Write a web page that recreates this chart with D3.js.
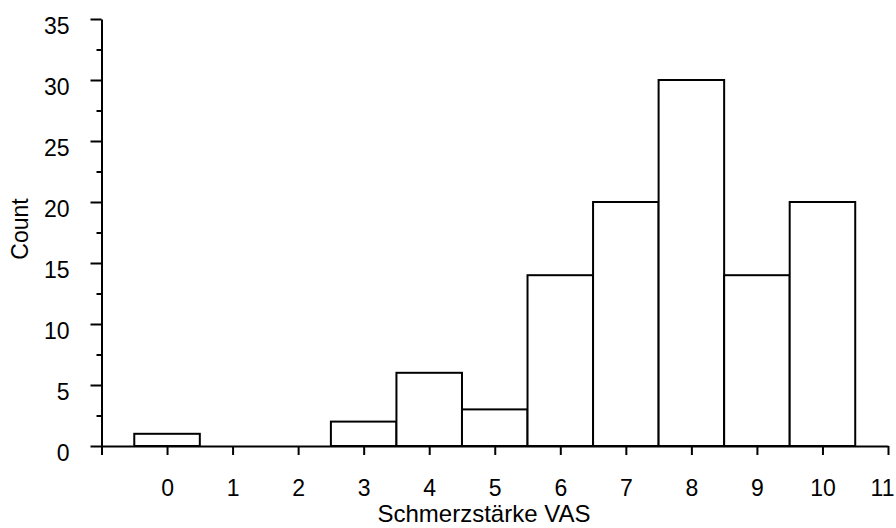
<!DOCTYPE html>
<html>
<head>
  <meta charset="utf-8">
  <title>Schmerzstärke VAS</title>
  <script src="https://cdn.jsdelivr.net/npm/d3@7/dist/d3.min.js"></script>
  <style>
    body { margin: 0; background: #fff; }
    text { font-family: "Liberation Sans", Arial, sans-serif; fill: #000; }
  </style>
</head>
<body>
  <svg id="chart" width="896" height="528"></svg>
  <script>
    // data
    var vasScores = [0, 1, 2, 3, 4, 5, 6, 7, 8, 9, 10];
    var counts    = [1, 0, 0, 2, 6, 3, 14, 20, 30, 14, 20];
    var xTicks    = [-1, 0, 1, 2, 3, 4, 5, 6, 7, 8, 9, 10, 11];
    var yTicks    = [0, 5, 10, 15, 20, 25, 30, 35];
    var yMinor    = [2.5, 7.5, 12.5, 17.5, 22.5, 27.5, 32.5];

    var chart = d3.select("#chart");

    var x = d3.scaleLinear().domain([-1, 11]).range([101.5, 888]);
    var y = d3.scaleLinear().domain([0, 35]).range([446, 19]);

    // bars
    chart.append("g").selectAll("rect")
      .data(vasScores)
      .join("rect")
        .attr("x", function(d) { return x(d - 0.5); })
        .attr("width", function(d) { return x(d + 0.5) - x(d - 0.5); })
        .attr("y", function(d, i) { return y(counts[i]); })
        .attr("height", function(d, i) { return y(0) - y(counts[i]); })
        .style("fill", "#fff")
        .style("stroke", "#000")
        .style("stroke-width", 2);

    // y minor ticks
    chart.append("g")
      .attr("transform", "translate(" + x(-1) + ",0)")
      .call(d3.axisLeft(y).tickValues(yMinor).tickSize(5).tickFormat(""))
      .call(function(g) { g.select(".domain").remove(); })
      .selectAll("line").style("stroke-width", 2);

    // y axis
    var yAxis = chart.append("g")
      .attr("transform", "translate(" + x(-1) + ",0)")
      .call(d3.axisLeft(y).tickValues(yTicks).tickSize(11).tickSizeOuter(0));
    yAxis.select(".domain").style("stroke-width", 2);
    yAxis.selectAll(".tick line").style("stroke-width", 2);
    yAxis.selectAll(".tick text")
      .attr("x", -32).attr("dy", null).attr("y", 14)
      .style("font-size", "23px");

    // x axis
    var xAxis = chart.append("g")
      .attr("transform", "translate(0," + y(0) + ")")
      .call(d3.axisBottom(x).tickValues(xTicks).tickSize(9).tickSizeOuter(0)
        .tickFormat(function(d) { return d < 0 ? "" : d; }));
    xAxis.select(".domain").style("stroke-width", 2);
    xAxis.selectAll(".tick line").style("stroke-width", 2);
    xAxis.selectAll(".tick text")
      .attr("y", 50).attr("dy", null)
      .attr("dx", function(d) { return d === 11 ? -6 : 0; })
      .style("font-size", "23px");

    // axis titles
    chart.append("text")
      .attr("x", 484).attr("y", 522)
      .style("text-anchor", "middle")
      .style("font-size", "24px")
      .text("Schmerzstärke VAS");

    chart.append("text")
      .attr("transform", "translate(28,229) rotate(-90)")
      .style("text-anchor", "middle")
      .style("font-size", "23px")
      .text("Count");
  </script>
</body>
</html>
